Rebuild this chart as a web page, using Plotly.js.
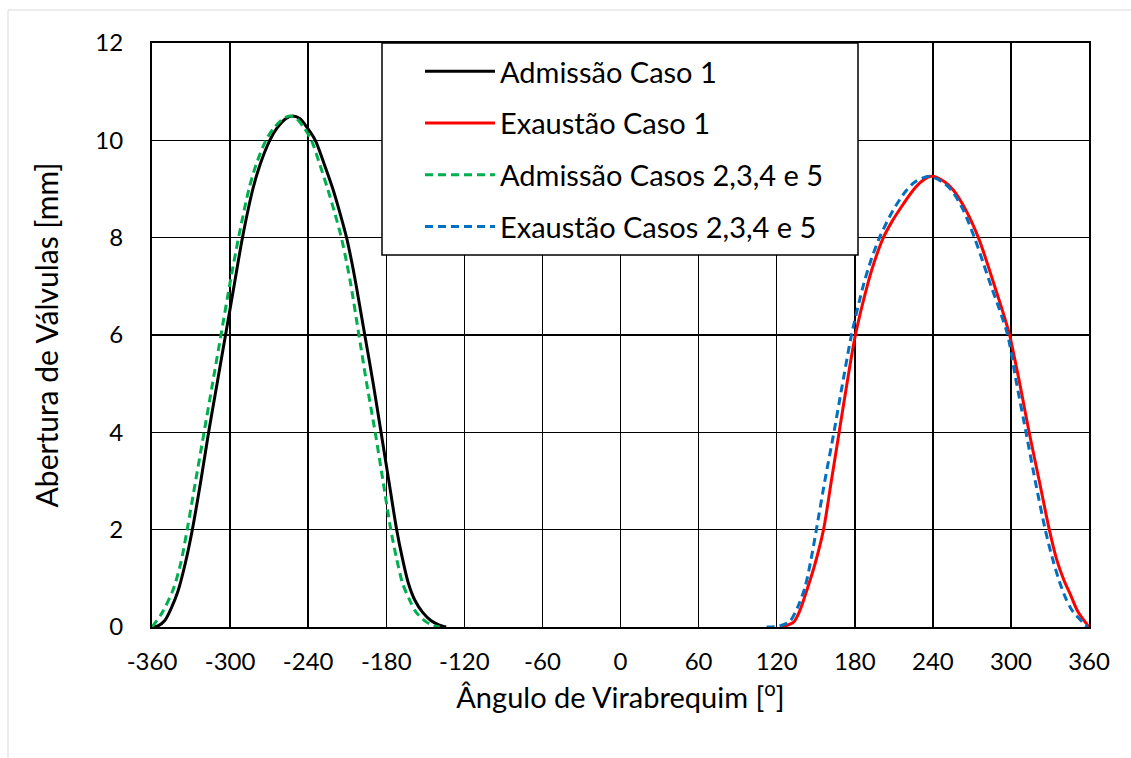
<!DOCTYPE html>
<html>
<head>
<meta charset="utf-8">
<script src="https://cdn.plot.ly/plotly-3.0.1.min.js"></script>
<style>html,body{margin:0;padding:0;background:#fff}#chart{width:1131px;height:758px}</style>
</head>
<body>
<div id="chart"></div>
<script>
// Admissão Caso 1
const admCaso1X = [-360, -355, -350, -345, -340, -334.5, -329, -322.5, -316.5, -310, -303.5, -297, -290.5, -282.5, -277, -269.5, -264, -257, -252, -246.5, -240.5, -234.5, -227.5, -221, -215.5, -210.5, -206.5, -203, -196.5, -190, -184, -178, -172, -167.5, -163, -158, -152, -146, -140, -134];
const admCaso1Y = [0, 0.03, 0.14, 0.4, 0.74, 1.3, 2, 3, 4, 5, 6, 7, 8, 9, 9.5, 10, 10.25, 10.45, 10.5, 10.45, 10.25, 10, 9.5, 9, 8.5, 8, 7.5, 7, 6, 5, 4, 3, 2, 1.4, 0.9, 0.55, 0.3, 0.14, 0.05, 0];
// Exaustão Caso 1
const exaCaso1X = [124, 133, 138, 142.5, 149.5, 156, 162, 168, 174, 180.5, 189.5, 195, 202, 209, 215, 224.7, 231, 239, 249, 256, 265.5, 275, 281.5, 287.5, 293.5, 299, 303, 306.8, 314, 321.8, 329.5, 335, 340.9, 346, 351.2, 360];
const exaCaso1Y = [0, 0.1, 0.35, 0.7, 1.3, 2, 3, 4, 5, 6, 7, 7.5, 8, 8.35, 8.6, 8.97, 9.15, 9.26, 9.15, 8.97, 8.56, 8, 7.5, 7, 6.5, 6, 5.5, 5, 4, 3, 2, 1.4, 0.95, 0.65, 0.33, 0];
// Admissão Casos 2,3,4 e 5
const admCasos2X = [-360, -352.5, -344, -338, -333, -326.5, -320, -313.5, -307, -300.5, -293.5, -285.5, -280, -272.5, -266.5, -259, -254, -249, -243, -237.5, -231, -225, -219.5, -214.5, -210.5, -207, -201, -195, -188.5, -182.5, -176.5, -172, -167.5, -162, -157, -149, -144, -139];
const admCasos2Y = [0, 0.28, 0.75, 1.3, 2, 3, 4, 5, 6, 7, 8, 9, 9.5, 10, 10.25, 10.45, 10.5, 10.45, 10.25, 10, 9.5, 9, 8.5, 8, 7.5, 7, 6, 5, 4, 3, 2, 1.4, 0.9, 0.55, 0.3, 0.1, 0.03, 0];
// Exaustão Casos 2,3,4 e 5
const exaCasos2X = [112.3, 122, 130.2, 136, 141.7, 146.5, 150.5, 157, 164, 170.6, 177.5, 186.4, 192, 199, 209.4, 219.6, 226.5, 237.5, 247, 254.5, 263.5, 272, 278.5, 284.8, 291.5, 297.5, 304.4, 311.6, 318.7, 326.4, 331.5, 337.1, 342, 347.3, 358.8];
const exaCasos2Y = [0, 0.02, 0.12, 0.4, 0.81, 1.4, 2, 3, 4, 5, 6, 7, 7.5, 8, 8.56, 8.97, 9.15, 9.26, 9.15, 8.97, 8.56, 8, 7.5, 7, 6.5, 6, 5, 4, 3, 2, 1.45, 0.95, 0.6, 0.33, 0];

const xTicks = [-360, -300, -240, -180, -120, -60, 0, 60, 120, 180, 240, 300, 360];
const yTicks = [0, 2, 4, 6, 8, 10, 12];

const FONT = 'Lato, "Liberation Sans", sans-serif';
const PLOT_L = 152, PLOT_W = 937, PLOT_B = 627, PLOT_H = 584;
const px2x = p => (p - PLOT_L) / PLOT_W;
const px2y = p => (PLOT_B - p) / PLOT_H;

const lineStyle = (color, dash) => ({color: color, width: 3, dash: dash, shape: 'spline', smoothing: 0.8});

const traces = [
  {x: admCaso1X, y: admCaso1Y, name: 'Admissão Caso 1', legendgroup: 'a', mode: 'lines', line: lineStyle('#000000', 'solid')},
  {x: exaCaso1X, y: exaCaso1Y, name: 'Exaustão Caso 1', legendgroup: 'b', mode: 'lines', line: lineStyle('#FF0000', 'solid')},
  {x: admCasos2X, y: admCasos2Y, name: 'Admissão Casos 2,3,4 e 5', legendgroup: 'c', mode: 'lines', line: lineStyle('#00B050', '8px,5px')},
  {x: exaCasos2X, y: exaCasos2Y, name: 'Exaustão Casos 2,3,4 e 5', legendgroup: 'd', mode: 'lines', line: lineStyle('#0070C0', '8px,5px')}
];

const layout = {
  width: 1131, height: 758,
  margin: {l: PLOT_L, r: 1131 - PLOT_L - PLOT_W, t: 43, b: 758 - PLOT_B},
  paper_bgcolor: '#ffffff', plot_bgcolor: '#ffffff',
  font: {family: FONT, color: '#000000', size: 24},
  showlegend: true,
  legend: {
    x: px2x(420), y: px2y(46), xanchor: 'left', yanchor: 'top',
    bgcolor: 'rgba(0,0,0,0)', borderwidth: 0,
    font: {family: FONT, size: 29, color: '#000000'},
    tracegroupgap: 11, itemwidth: 70, traceorder: 'grouped'
  },
  xaxis: {
    range: [-360, 360], tickmode: 'array', tickvals: xTicks, ticktext: xTicks.map(String),
    showgrid: true, gridcolor: '#000000', gridwidth: 1.5,
    showline: true, linecolor: '#000000', linewidth: 2, mirror: true,
    zeroline: false, ticks: '', ticklabelstandoff: 12,
    tickfont: {family: FONT, size: 24, color: '#000000'},
    title: {text: 'Ângulo de Virabrequim [<sup>o</sup>]', font: {family: FONT, size: 29, color: '#000000'}, standoff: 14}
  },
  yaxis: {
    range: [0, 12], tickmode: 'array', tickvals: yTicks, ticktext: yTicks.map(String),
    showgrid: true, gridcolor: '#000000', gridwidth: 1.5,
    showline: true, linecolor: '#000000', linewidth: 2, mirror: true,
    zeroline: false, ticks: '', ticklabelstandoff: 22,
    tickfont: {family: FONT, size: 24, color: '#000000'},
    title: {text: 'Abertura de Válvulas [mm]', font: {family: FONT, size: 30, color: '#000000'}, standoff: 28}
  },
  shapes: [
    {type: 'rect', xref: 'paper', yref: 'paper', layer: 'below',
     x0: px2x(8), x1: px2x(1140), y0: px2y(770), y1: px2y(10),
     line: {color: '#d9d9d9', width: 1}, fillcolor: 'rgba(0,0,0,0)'},
    {type: 'rect', xref: 'paper', yref: 'paper', layer: 'above',
     x0: px2x(382), x1: px2x(858), y0: px2y(255), y1: px2y(43),
     line: {color: '#000000', width: 1.5}, fillcolor: '#ffffff'}
  ]
};

Plotly.newPlot('chart', traces, layout, {displayModeBar: false, staticPlot: true});
</script>
</body>
</html>
